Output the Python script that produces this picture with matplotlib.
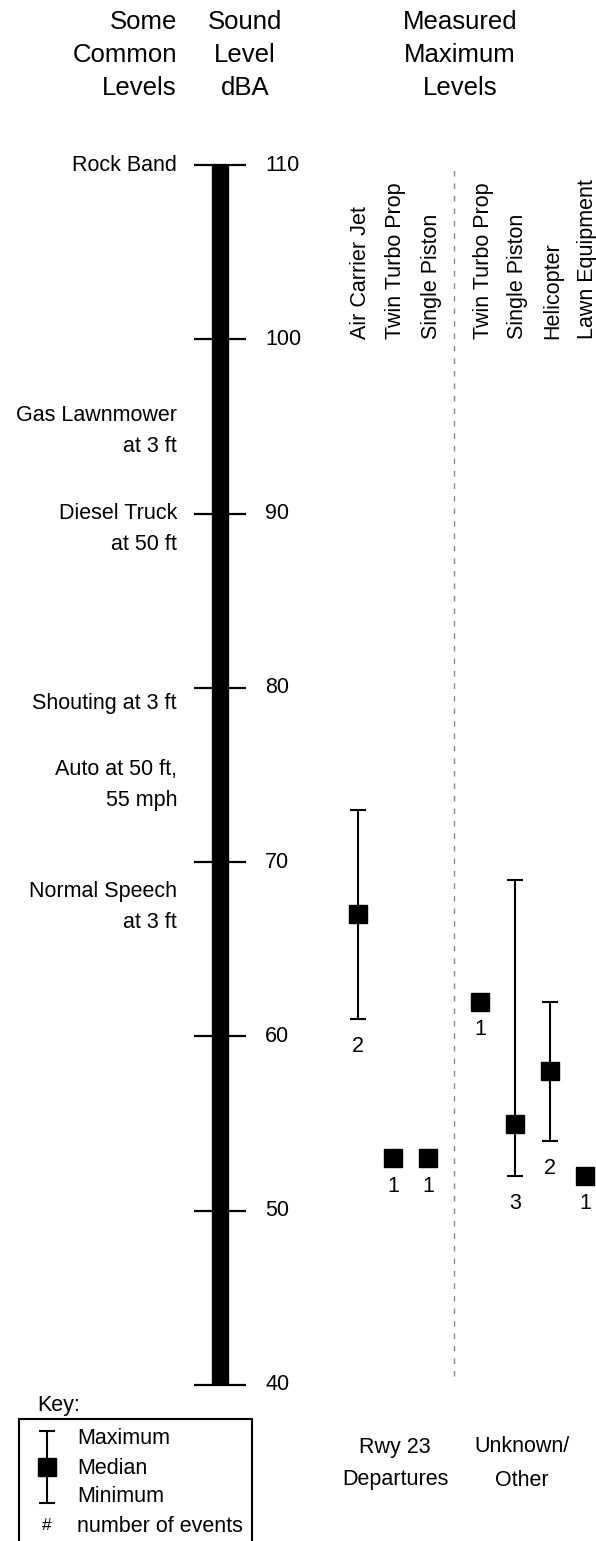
import matplotlib
matplotlib.use("Agg")
import matplotlib.pyplot as plt
from matplotlib.patches import Rectangle

plt.rcParams['font.family'] = ['Liberation Sans', 'DejaVu Sans']

# scale
scale_ticks = [40, 50, 60, 70, 80, 90, 100, 110]

# common levels (label lines, level where first line sits)
common_labels = ["Rock Band", "Gas Lawnmower\nat 3 ft", "Diesel Truck\nat 50 ft",
                 "Shouting at 3 ft", "Auto at 50 ft,\n55 mph", "Normal Speech\nat 3 ft"]
common_levels = [110, 95.6, 90, 79.1, 75.3, 68.3]

# measured levels
dep_sources = ["Air Carrier Jet", "Twin Turbo Prop", "Single Piston"]
dep_median = [67, 53, 53]
dep_max = [73, 53, 53]
dep_min = [61, 53, 53]
dep_count = [2, 1, 1]

oth_sources = ["Twin Turbo Prop", "Single Piston", "Helicopter", "Lawn Equipment"]
oth_median = [62, 55, 58, 52]
oth_max = [62, 69, 62, 52]
oth_min = [62, 52, 54, 52]
oth_count = [1, 3, 2, 1]

W, H = 596, 1541
fig = plt.figure(figsize=(W / 100, H / 100), dpi=100)
ax = fig.add_axes([0, 0, 1, 1])
# map pixels: 110 dBA at y=165, 40 dBA at y=1385
k = 70 / 1220
ax.set_xlim(0, W)
ax.set_ylim(40 - (H - 1385) * k, 110 + 165 * k)
ax.axis("off")

def ypx(p):
    return 1 - p / H

fs = 15.5
hfs = 18.5

# scale bar
ax.vlines(220, 40, 110, color="black", linewidth=12.5)
ax.hlines(scale_ticks, 194, 246, color="black", linewidth=1.6)
for t in scale_ticks:
    ax.text(265, t, str(t), ha="left", va="center", fontsize=fs)

for lab, lv in zip(common_labels, common_levels):
    for i, ln in enumerate(lab.split("\n")):
        ax.text(177, lv - i * 31 * k, ln, ha="right", va="center", fontsize=fs)

# headers
for i, (a, b, c) in enumerate(zip(["Some", "Common", "Levels"],
                                  ["Sound", "Level", "dBA"],
                                  ["Measured", "Maximum", "Levels"])):
    y = ypx(22 + i * 33)
    fig.text(177 / W, y, a, ha="right", va="center", fontsize=hfs)
    fig.text(245 / W, y, b, ha="center", va="center", fontsize=hfs)
    fig.text(460 / W, y, c, ha="center", va="center", fontsize=hfs)

# divider
ax.vlines(454, 40.5, 110, color="#888888", linewidth=1.0, linestyles=(0, (4, 5)))

def draw_group(x0, names, med, mx, mn, cnt):
    xs = [x0 + 35 * i for i in range(len(names))]
    for x, nm, m, hi, lo, c in zip(xs, names, med, mx, mn, cnt):
        if hi > lo:
            ax.errorbar([x], [m], yerr=[[m - lo], [hi - m]], fmt="none",
                        ecolor="black", elinewidth=1.5, capsize=6, capthick=1.5)
        ax.plot([x], [m], marker="s", markersize=12.5, color="black", linestyle="none")
        ax.text(x, lo - 1.6, str(c), ha="center", va="center", fontsize=fs)
        ax.text(x + 3, 100, nm, rotation=90, ha="center", va="bottom", fontsize=fs)
    return xs

draw_group(358, dep_sources, dep_median, dep_max, dep_min, dep_count)
draw_group(480, oth_sources, oth_median, oth_max, oth_min, oth_count)

# group labels
fig.text(395 / W, ypx(1447), "Rwy 23", ha="center", va="center", fontsize=fs)
fig.text(395 / W, ypx(1480), "Departures", ha="center", va="center", fontsize=fs)
fig.text(522 / W, ypx(1447), "Unknown/", ha="center", va="center", fontsize=fs)
fig.text(522 / W, ypx(1480), "Other", ha="center", va="center", fontsize=fs)

# key
fig.text(37 / W, ypx(1406), "Key:", ha="left", va="center", fontsize=fs)
fig.patches.append(Rectangle((19 / W, ypx(1560)), 233 / W, (1560 - 1419) / H,
                             transform=fig.transFigure, fill=False,
                             edgecolor="black", linewidth=1.5))
kx = 47
ax.vlines(kx, 40 - (1503 - 1385) * k, 40 - (1431 - 1385) * k, color="black", linewidth=1.5)
ax.hlines([40 - (1503 - 1385) * k, 40 - (1431 - 1385) * k], kx - 8, kx + 8,
          color="black", linewidth=1.5)
ax.plot([kx], [40 - (1467 - 1385) * k], marker="s", markersize=12.5, color="black")
for i, t in enumerate(["Maximum", "Median", "Minimum", "number of events"]):
    fig.text(77 / W, ypx(1439 + i * 29), t, ha="left", va="center", fontsize=fs)
fig.text(kx / W, ypx(1526), "#", ha="center", va="center", fontsize=fs - 3)

fig.savefig("out.png", dpi=100)
